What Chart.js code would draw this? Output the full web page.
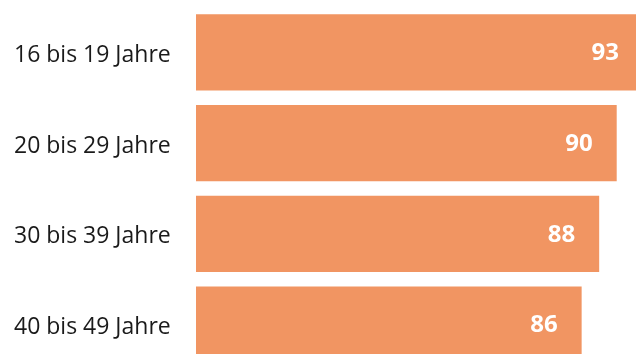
<!DOCTYPE html>
<html lang="de">
<head>
<meta charset="utf-8">
<script src="https://cdn.jsdelivr.net/npm/chart.js@4"></script>
<style>
  html, body { margin: 0; padding: 0; background: #fff; overflow: hidden; }
  #wrap { position: relative; width: 643px; height: 370px; }
</style>
</head>
<body>
<div id="wrap"><canvas id="chart"></canvas></div>
<script>
const ageGroups = ['16 bis 19 Jahre', '20 bis 29 Jahre', '30 bis 39 Jahre', '40 bis 49 Jahre'];
const shares = [93, 90, 88, 86];

const barColor = '#F19562';

// white value printed inside the end of each bar
const valueLabels = {
  id: 'valueLabels',
  afterDatasetsDraw(chart) {
    const ctx = chart.ctx;
    const meta = chart.getDatasetMeta(0);
    ctx.save();
    ctx.fillStyle = '#fff';
    ctx.font = 'bold 24px "Open Sans"';
    ctx.textAlign = 'right';
    ctx.textBaseline = 'middle';
    meta.data.forEach((bar, i) => {
      ctx.fillText(String(shares[i]), bar.x - 24, bar.y + 1);
    });
    ctx.restore();
  }
};

new Chart(document.getElementById('chart'), {
  type: 'bar',
  data: {
    labels: ageGroups,
    datasets: [{
      data: shares,
      backgroundColor: barColor,
      borderWidth: 0,
      categoryPercentage: 0.8375,
      barPercentage: 1
    }]
  },
  options: {
    indexAxis: 'y',
    responsive: true,
    maintainAspectRatio: false,
    animation: false,
    layout: { padding: { left: 14, top: 7, right: 0, bottom: 0 } },
    plugins: {
      legend: { display: false },
      tooltip: { enabled: false }
    },
    scales: {
      x: {
        display: false,
        min: 42,
        max: 93
      },
      y: {
        grid: { display: false },
        border: { display: false },
        ticks: {
          crossAlign: 'far',
          labelOffset: 3,
          color: '#1a1a1a',
          font: { family: '"Open Sans"', size: 23 }
        },
        afterFit(scale) {
          scale.width = 182;
          // labels sit inside their bands, no extra room above/below
          scale.paddingTop = 0;
          scale.paddingBottom = 0;
        }
      }
    }
  },
  plugins: [valueLabels]
});
</script>
</body>
</html>
